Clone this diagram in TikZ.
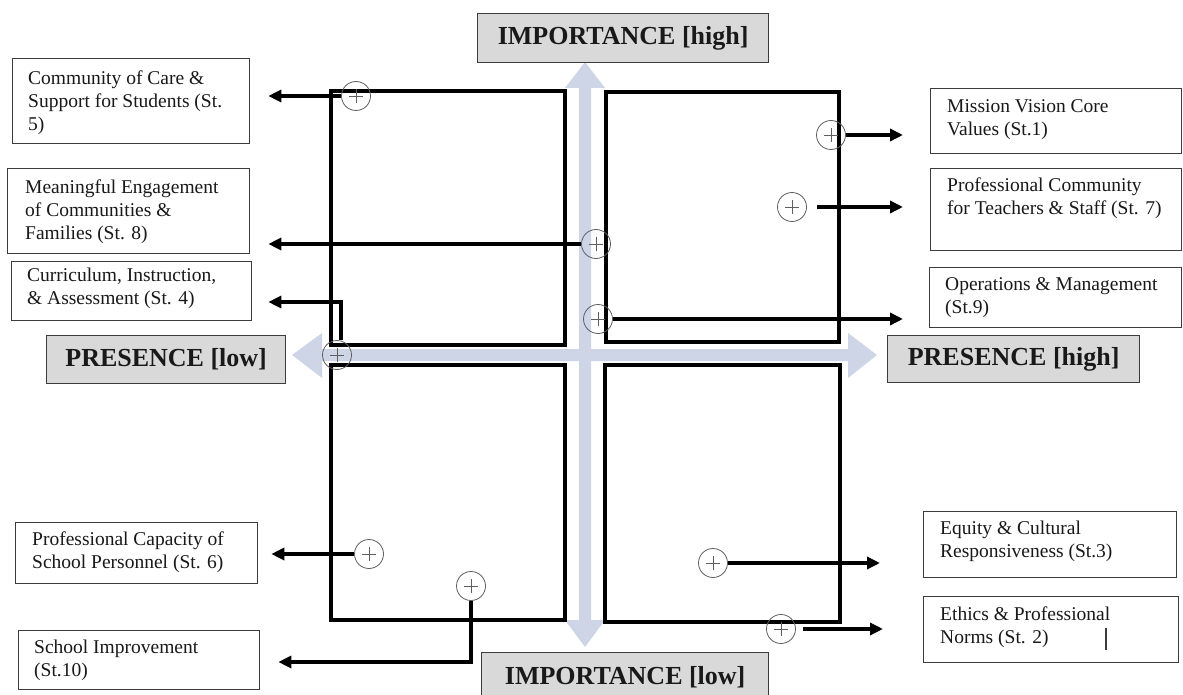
\documentclass[tikz,border=0pt]{standalone}
\usepackage{fontspec}
\setmainfont{Liberation Serif}
\usetikzlibrary{arrows.meta,calc}
\definecolor{axisblue}{RGB}{205,213,230}
\definecolor{labelgray}{RGB}{217,217,217}
\definecolor{edgegray}{RGB}{60,60,60}
\definecolor{circgray}{RGB}{95,95,95}
\definecolor{txtcol}{RGB}{25,25,25}
\begin{document}
\begin{tikzpicture}[x=1pt,y=-1pt,
  quad/.style={draw=black,line width=3.3pt},
  stbox/.style={draw=edgegray,line width=1.3pt,rectangle,inner sep=0pt,anchor=north west},
  sttext/.style={anchor=north west,inner sep=0pt,align=left,text=txtcol,font=\fontsize{19.5}{23}\selectfont},
  axlabel/.style={draw=edgegray,line width=1.3pt,fill=labelgray,rectangle,inner sep=0pt,anchor=north west,text=txtcol,font=\fontsize{26}{30}\selectfont\bfseries},
  plusmark/.style={circle,draw=circgray,line width=0.8pt,minimum size=29pt,inner sep=0pt,
    path picture={\draw[circgray,line width=0.6pt]
      (path picture bounding box.center) ++(-7pt,0) -- ++(14pt,0)
      (path picture bounding box.center) ++(0,-7pt) -- ++(0,14pt);}},
  conn/.style={draw=black,line width=3.3pt,-{Triangle[length=13pt,width=12pt]}}
]
\useasboundingbox (0,0) rectangle (1183,695);
\fill[white] (0,0) rectangle (1183,695);

% axes
\fill[axisblue] (579,88) -- (565,88) -- (585,62) -- (605,88) -- (591,88) -- (591,620)
  -- (605,620) -- (585,647) -- (565,620) -- (579,620) -- cycle;
\fill[axisblue] (322,349) -- (322,333) -- (292,355) -- (322,378) -- (322,361) -- (848,361)
  -- (848,378) -- (877,355) -- (848,333) -- (848,349) -- cycle;

% quadrants
\draw[quad] (331,91) rectangle (565,345);
\draw[quad] (606,92) rectangle (839,342);
\draw[quad] (331,365) rectangle (565,620);
\draw[quad] (605,365) rectangle (840,622);

% axis labels
\node[axlabel,minimum width=291pt,minimum height=49pt] (ih) at (477,13) {IMPORTANCE [high]};
\node[axlabel,minimum width=287pt,minimum height=50pt] (il) at (481,652) {IMPORTANCE [low]};
\node[axlabel,minimum width=239pt,minimum height=48pt] (pl) at (46,335) {PRESENCE [low]};
\node[axlabel,minimum width=252pt,minimum height=47pt] (ph) at (887,335) {PRESENCE [high]};

% standard boxes
\node[stbox,minimum width=237pt,minimum height=85pt] (b5) at (12,58) {};
\node[sttext] at ($(b5.north west)+(16,13)$) {Community of Care \&\\Support for Students (St.\\5)};
\node[stbox,minimum width=242pt,minimum height=85pt] (b8) at (7,168) {};
\node[sttext] at ($(b8.north west)+(18,12)$) {Meaningful Engagement\\of Communities \&\\Families (St. 8)};
\node[stbox,minimum width=240pt,minimum height=59pt] (b4) at (11,261) {};
\node[sttext] at ($(b4.north west)+(16,7)$) {Curriculum, Instruction,\\\& Assessment (St. 4)};
\node[stbox,minimum width=242pt,minimum height=61pt] (b6) at (15,522) {};
\node[sttext] at ($(b6.north west)+(17,10)$) {Professional Capacity of\\School Personnel (St. 6)};
\node[stbox,minimum width=241pt,minimum height=59pt] (b10) at (18,630) {};
\node[sttext] at ($(b10.north west)+(16,10)$) {School Improvement\\(St.10)};
\node[stbox,minimum width=251pt,minimum height=65pt] (b1) at (930,88) {};
\node[sttext] at ($(b1.north west)+(17,11)$) {Mission Vision Core\\Values (St.1)};
\node[stbox,minimum width=251pt,minimum height=82pt] (b7) at (930,168) {};
\node[sttext] at ($(b7.north west)+(17,10)$) {Professional Community\\for Teachers \& Staff (St. 7)};
\node[stbox,minimum width=252pt,minimum height=60pt] (b9) at (929,267) {};
\node[sttext] at ($(b9.north west)+(16,10)$) {Operations \& Management\\(St.9)};
\node[stbox,minimum width=253pt,minimum height=66pt] (b3) at (923,511) {};
\node[sttext] at ($(b3.north west)+(17,10)$) {Equity \& Cultural\\Responsiveness (St.3)};
\node[stbox,minimum width=255pt,minimum height=66pt] (b2) at (923,596) {};
\node[sttext] at ($(b2.north west)+(17,11)$) {Ethics \& Professional\\Norms (St. 2)};
\draw[edgegray,line width=1.3pt] (1106,628) -- (1106,650);

% marks
\node[plusmark] (c5) at (356,96) {};
\node[plusmark] (c8) at (596,244) {};
\node[plusmark] (c4) at (337,355) {};
\node[plusmark] (c9) at (598,319) {};
\node[plusmark] (c1) at (831,135) {};
\node[plusmark] (c7) at (792,207) {};
\node[plusmark] (c6) at (369,554) {};
\node[plusmark] (c10) at (471,586) {};
\node[plusmark] (c3) at (713,563) {};
\node[plusmark] (c2) at (781,629) {};

% connectors
\coordinate (k4) at (341,302);
\coordinate (k10) at (471,662);
\draw[conn,shorten >=18pt] (c5.west) -- (c5.west -| b5.east);
\draw[conn,shorten >=18pt] (c8.west) -- (c8.west -| b8.east);
\draw[conn,shorten >=16pt] (c4.north -| k4) |- (b4.east |- k4);
\draw[conn,shorten >=26pt] (c9.east) -- (c9.east -| b9.west);
\draw[conn,shorten >=27pt] (c1.east) -- (c1.east -| b1.west);
\draw[conn,shorten <=10pt,shorten >=27pt] (c7.east) -- (c7.east -| b7.west);
\draw[conn,shorten >=13pt] (c6.west) -- (c6.west -| b6.east);
\draw[conn,shorten >=18pt] (c10.south) |- (b10.east |- k10);
\draw[conn,shorten >=43pt] (c3.east) -- (c3.east -| b3.west);
\draw[conn,shorten <=7pt,shorten >=40pt] (c2.east) -- (c2.east -| b2.west);
\end{tikzpicture}
\end{document}
